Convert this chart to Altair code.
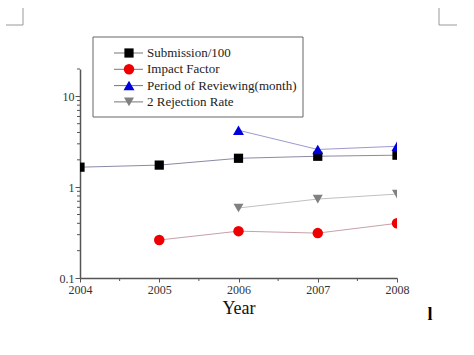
import altair as alt
import pandas as pd

years = [2004, 2005, 2006, 2007, 2008]
submission = [1.66, 1.75, 2.08, 2.19, 2.25]
impact_years = [2005, 2006, 2007, 2008]
impact = [0.262, 0.328, 0.312, 0.40]
period_years = [2006, 2007, 2008]
period = [4.23, 2.6, 2.82]
reject_years = [2006, 2007, 2008]
reject = [0.59, 0.74, 0.84]

series_names = ["Submission/100", "Impact Factor", "Period of Reviewing(month)", "2 Rejection Rate"]
shapes = ["square", "circle", "triangle-up", "triangle-down"]
fills = ["#000000", "#ee0000", "#0000dd", "#808080"]
line_colors = ["#8a8aa8", "#c8a0a8", "#9a9ad0", "#c0c0c0"]
sizes = [85, 110, 120, 100]

major_y = [0.1, 1, 10]
minor_y = [0.2, 0.3, 0.4, 0.5, 0.6, 0.7, 0.8, 0.9, 2, 3, 4, 5, 6, 7, 8, 9, 20]
minor_x = [2004.5, 2005.5, 2006.5, 2007.5]

FONT = "Liberation Serif"

xs = alt.Scale(domain=[2004, 2008], nice=False, zero=False)
ys = alt.Scale(type="log", domain=[0.1, 20], nice=False)

x_axis = alt.Axis(values=years, format="d", title="Year", grid=False,
                  tickSize=4, labelFont=FONT, labelFontSize=12, labelColor="#333",
                  labelFlush=False, labelOverlap=False, labelBound=False,
                  titleFont=FONT, titleFontSize=18, titleFontWeight="normal",
                  titleColor="#111", titlePadding=4, labelPadding=2,
                  domainColor="#555", tickColor="#555", domainWidth=1.5)
y_axis = alt.Axis(values=major_y, format="~g", title=None, grid=False,
                  tickSize=5, labelFont=FONT, labelFontSize=12, labelColor="#333",
                  labelFlush=False, labelOverlap=False, labelBound=False,
                  labelPadding=1, domainColor="#555", tickColor="#555", domainWidth=1.5)

all_series = [
    (years, submission),
    (impact_years, impact),
    (period_years, period),
    (reject_years, reject),
]

def X(field):
    return alt.X(field, scale=xs, axis=x_axis, title="Year")

def Y(field):
    return alt.Y(field, scale=ys, axis=y_axis, title=None)

layers = []

# minor ticks
layers.append(alt.Chart(pd.DataFrame({"m": minor_y})).mark_rule(color="#555").encode(
    y=Y("m:Q"), x=alt.value(-3), x2=alt.value(0)))
layers.append(alt.Chart(pd.DataFrame({"m": minor_x})).mark_rule(color="#555").encode(
    x=X("m:Q"), y=alt.value(209), y2=alt.value(212)))

for i, (xv, yv) in enumerate(all_series):
    df = pd.DataFrame({"year": xv, "val": yv})
    layers.append(alt.Chart(df).mark_line(color=line_colors[i], strokeWidth=1, clip=True).encode(
        x=X("year:Q"), y=Y("val:Q")))
    layers.append(alt.Chart(df).mark_point(shape=shapes[i], filled=True, fill=fills[i],
                                           color=fills[i], size=sizes[i], opacity=1, clip=True).encode(
        x=X("year:Q"), y=Y("val:Q")))

# legend
layers.append(alt.Chart(pd.DataFrame({"a": [0]})).mark_rect(fill="white", stroke="#666", strokeWidth=1).encode(
    x=alt.value(13), x2=alt.value(223), y=alt.value(-32), y2=alt.value(48)))
leg = pd.DataFrame({"name": series_names, "i": [0, 1, 2, 3]})
leg_base = alt.Chart(leg).transform_calculate(ly="-16 + 16.3*datum.i")
layers.append(leg_base.mark_rule(color="#777", strokeWidth=1).encode(
    y=alt.Y("ly:Q", scale=None), x=alt.value(34), x2=alt.value(63)))
for i in range(4):
    layers.append(alt.Chart(leg[leg.i == i]).transform_calculate(ly="-16 + 16.3*datum.i").mark_point(
        shape=shapes[i], filled=True, fill=fills[i], color=fills[i], size=sizes[i], opacity=1).encode(
        y=alt.Y("ly:Q", scale=None), x=alt.value(49)))
layers.append(leg_base.mark_text(align="left", baseline="middle", font=FONT, fontSize=13, color="#222").encode(
    y=alt.Y("ly:Q", scale=None), x=alt.value(67), text="name:N"))

# crop marks
crop = alt.Chart(pd.DataFrame({"a": [0]}))
for (x1, x2, y1, y2) in [(-57, -57, -61, -44), (-74, -57, -44, -44), (359, 359, -61, -44), (359, 377, -44, -44)]:
    layers.append(crop.mark_rule(color="#999", strokeWidth=1).encode(
        x=alt.value(x1), x2=alt.value(x2), y=alt.value(y1), y2=alt.value(y2)))
layers.append(crop.mark_text(text="l", font=FONT, fontSize=18, fontWeight="bold", color="#000",
                             baseline="middle").encode(x=alt.value(350), y=alt.value(246)))

chart = alt.layer(*layers).properties(
    width=317, height=209,
    autosize=alt.AutoSizeParams(type="none"),
    padding={"left": 80, "top": 69, "right": 77, "bottom": 77},
    background="white",
).configure_view(stroke=None)

chart.save("out.html", embed_options={"renderer": "svg", "actions": False})
